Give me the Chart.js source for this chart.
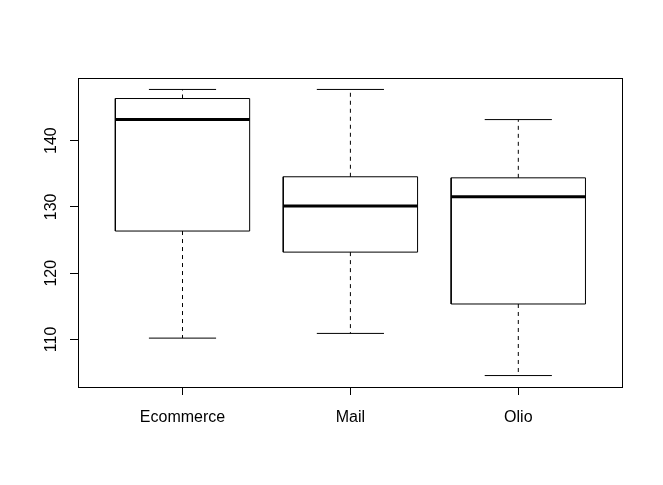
<!DOCTYPE html>
<html>
<head>
<meta charset="utf-8">
<script src="https://cdn.jsdelivr.net/npm/chart.js@4/dist/chart.umd.min.js"></script>
<style>
html,body{margin:0;padding:0;background:#fff;}
#wrap{width:663px;height:485px;position:relative;}
</style>
</head>
<body>
<div id="wrap"><canvas id="c"></canvas></div>
<script>
// Data
const categories = ["Ecommerce", "Mail", "Olio"];
const whiskerLow  = [110.2, 110.91, 104.55];
const q1Values    = [126.36, 123.18, 115.35];
const medians     = [143.18, 130.15, 131.52];
const q3Values    = [146.36, 134.55, 134.39];
const whiskerHigh = [147.73, 147.73, 143.18];
const yTicks = [110, 120, 130, 140];

const BOX_HALF = 0.4, CAP_HALF = 0.2;

const boxPts = [], medPts = [], whiskPts = [], capPts = [];
categories.forEach((c, k) => {
  const i = k + 1;
  boxPts.push({x:i-BOX_HALF,y:q1Values[k]},{x:i+BOX_HALF,y:q1Values[k]},{x:i+BOX_HALF,y:q3Values[k]},{x:i-BOX_HALF,y:q3Values[k]},{x:i-BOX_HALF,y:q1Values[k]},{x:i,y:null});
  medPts.push({x:i-BOX_HALF,y:medians[k]},{x:i+BOX_HALF,y:medians[k]},{x:i,y:null});
  whiskPts.push({x:i,y:q3Values[k]},{x:i,y:whiskerHigh[k]},{x:i+0.001,y:null},{x:i,y:q1Values[k]},{x:i,y:whiskerLow[k]},{x:i+0.002,y:null});
  capPts.push({x:i-CAP_HALF,y:whiskerHigh[k]},{x:i+CAP_HALF,y:whiskerHigh[k]},{x:i,y:null},{x:i-CAP_HALF,y:whiskerLow[k]},{x:i+CAP_HALF,y:whiskerLow[k]},{x:i+0.001,y:null});
});

const dataMin = Math.min(...whiskerLow), dataMax = Math.max(...whiskerHigh);
const ext = (dataMax - dataMin) * 0.04;

const frame = {
  id: 'frame',
  afterDraw(chart) {
    const a = chart.chartArea, ctx = chart.ctx;
    ctx.save();
    ctx.strokeStyle = '#000'; ctx.lineWidth = 1;
    ctx.strokeRect(Math.round(a.left)+0.5, Math.round(a.top)+0.5, Math.round(a.right-a.left), Math.round(a.bottom-a.top));
    ctx.restore();
  }
};

const common = {showLine:true, pointRadius:0, borderColor:'#000', spanGaps:false, borderCapStyle:'butt', borderJoinStyle:'miter', tension:0};

new Chart(document.getElementById('c'), {
  type: 'scatter',
  data: {
    datasets: [
      Object.assign({label:'whiskers', data: whiskPts, borderWidth:1, borderDash:[4,4]}, common),
      Object.assign({label:'caps', data: capPts, borderWidth:1}, common),
      Object.assign({label:'box', data: boxPts, borderWidth:1}, common),
      Object.assign({label:'median', data: medPts, borderWidth:3}, common)
    ]
  },
  options: {
    responsive: true,
    maintainAspectRatio: false,
    animation: false,
    events: [],
    layout: {padding: {top: 78, right: 41, left: 0, bottom: 0}},
    plugins: {legend: {display:false}, tooltip: {enabled:false}},
    scales: {
      x: {
        type: 'linear',
        min: 0.3776, max: 3.6176,
        afterFit(s) { s.height = 98; },
        afterBuildTicks(s) { s.ticks = categories.map((c,k)=>({value:k+1})); },
        grid: {display:true, drawOnChartArea:false, drawTicks:true, tickLength:8, color:'#000', lineWidth:1},
        border: {display:false},
        ticks: {
          autoSkip:false, maxRotation:0, minRotation:0, padding:13,
          color:'#000', font:{family:'Arial, "Liberation Sans", sans-serif', size:16},
          callback(v) { return categories[Math.round(v)-1] || ''; }
        }
      },
      y: {
        type: 'linear',
        min: dataMin - ext, max: dataMax + ext,
        afterFit(s) { s.width = 78; },
        afterBuildTicks(s) { s.ticks = yTicks.map(v=>({value:v})); },
        grid: {display:true, drawOnChartArea:false, drawTicks:true, tickLength:8, color:'#000', lineWidth:1},
        border: {display:false},
        ticks: {
          autoSkip:false, minRotation:90, maxRotation:90, crossAlign:'center', padding:5,
          color:'#000', font:{family:'Arial, "Liberation Sans", sans-serif', size:16},
          callback(v) { return String(v); }
        }
      }
    }
  },
  plugins: [frame]
});
</script>
</body>
</html>
